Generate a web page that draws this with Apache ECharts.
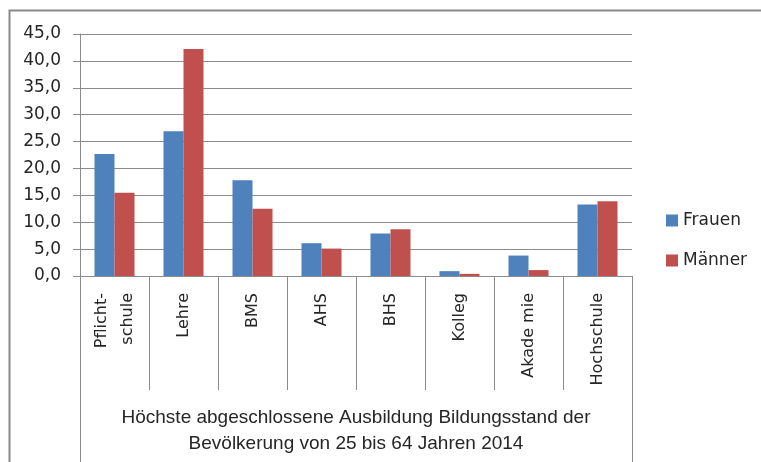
<!DOCTYPE html>
<html>
<head>
<meta charset="utf-8">
<script src="https://cdn.jsdelivr.net/npm/echarts@6/dist/echarts.min.js"></script>
<style>
  html, body { margin: 0; padding: 0; background: #fff; }
  #main { width: 761px; height: 462px; }
</style>
</head>
<body>
<div id="main"></div>
<script>
// Kategorien (Bildungsstand)
var categories = ['Pflicht-\nschule', 'Lehre', 'BMS', 'AHS', 'BHS', 'Kolleg', 'Akade mie', 'Hochschule']
var frauen = [22.7, 26.9, 17.8, 6.1, 7.9, 0.9, 3.8, 13.3]
var maenner = [15.5, 42.2, 12.5, 5.1, 8.7, 0.4, 1.1, 13.9]
var axisTitle = ['Höchste abgeschlossene Ausbildung Bildungsstand der\nBevölkerung von 25 bis 64 Jahren 2014']
var seriesNames = ['Frauen', 'Männer']

var gray = '#8c8c8c'
var textColor = '#262626'

var chart = echarts.init(document.getElementById('main'), null, { renderer: 'canvas' })

var option = {
  animation: false,
  color: ['#4F81BD', '#C0504D'],
  graphic: [
    {
      type: 'rect',
      shape: { x: 9.5, y: 10.5, width: 800, height: 500 },
      style: { fill: 'none', stroke: '#8a8a8a', lineWidth: 2 },
      silent: true
    }
  ],
  grid: {
    left: 80,
    right: 129,
    top: 34,
    bottom: 186
  },
  legend: {
    orient: 'vertical',
    left: 666,
    top: 212,
    padding: 0,
    itemWidth: 12,
    itemHeight: 12,
    itemGap: 23,
    icon: 'rect',
    data: seriesNames,
    textStyle: { fontFamily: 'DejaVu Sans', fontSize: 17, color: textColor }
  },
  xAxis: [
    {
      type: 'category',
      data: categories,
      axisLine: { show: true, lineStyle: { color: gray } },
      axisTick: { show: true, length: 114, lineStyle: { color: gray } },
      axisLabel: {
        interval: 0,
        rotate: 90,
        margin: 17,
        fontFamily: 'DejaVu Sans',
        fontSize: 16,
        lineHeight: 26,
        color: textColor
      }
    },
    {
      // Achsentitel als zweite Ebene (wie in Excel)
      type: 'category',
      position: 'bottom',
      data: axisTitle,
      axisLine: { show: false },
      axisTick: { show: true, length: 186, lineStyle: { color: gray } },
      axisLabel: {
        interval: 0,
        margin: 129,
        fontFamily: 'Liberation Sans',
        fontSize: 19,
        lineHeight: 26,
        color: textColor
      }
    }
  ],
  yAxis: {
    type: 'value',
    min: 0,
    max: 45,
    interval: 5,
    axisLine: { show: true, lineStyle: { color: gray } },
    axisTick: { show: true, length: 7, lineStyle: { color: gray } },
    splitLine: { lineStyle: { color: gray } },
    axisLabel: {
      margin: 19,
      fontFamily: 'DejaVu Sans',
      fontSize: 17,
      color: textColor,
      formatter: function (v) { return v.toFixed(1).replace('.', ',') }
    }
  },
  series: [
    {
      name: seriesNames[0],
      type: 'bar',
      data: frauen,
      barGap: '0%',
      barCategoryGap: '42%'
    },
    {
      name: seriesNames[1],
      type: 'bar',
      data: maenner,
      barGap: '0%',
      barCategoryGap: '42%'
    }
  ]
}

chart.setOption(option)
</script>
</body>
</html>
